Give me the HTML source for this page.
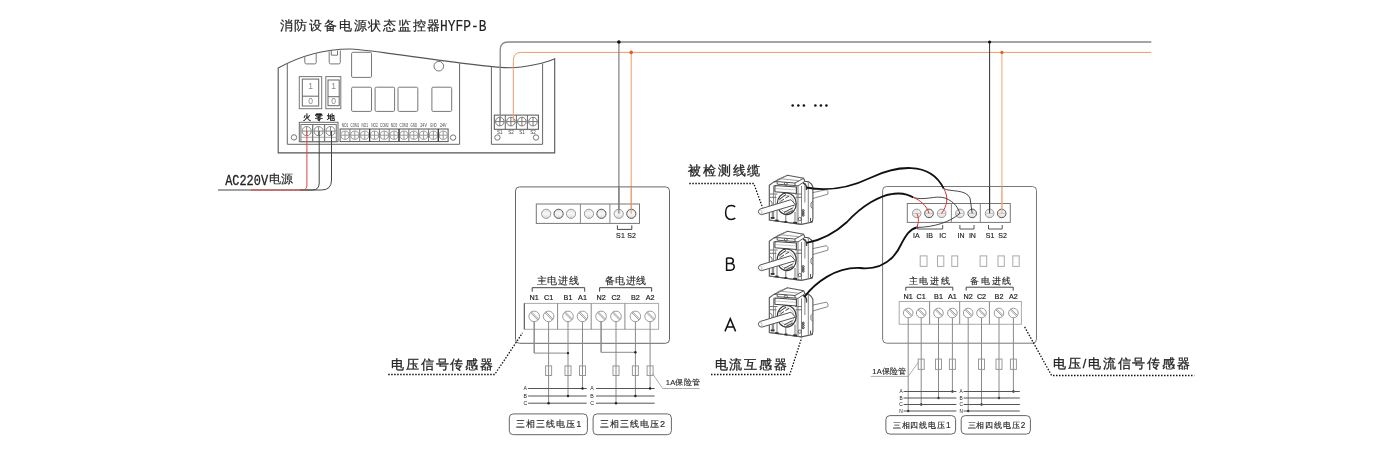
<!DOCTYPE html><html><head><meta charset="utf-8"><style>html,body{margin:0;padding:0;background:#fff;width:1400px;height:454px;overflow:hidden}svg{display:block;will-change:transform}</style></head><body>
<svg width="1400" height="454" viewBox="0 0 1400 454">
<defs><radialGradient id="gr" cx="50%" cy="50%" r="50%"><stop offset="0" stop-color="#f4f4f4"/><stop offset="1" stop-color="#cfcfcf"/></radialGradient><linearGradient id="gl" x1="0" y1="0" x2="0" y2="1"><stop offset="0" stop-color="#e0e0e0"/><stop offset="0.5" stop-color="#f8f8f8"/><stop offset="1" stop-color="#d8d8d8"/></linearGradient></defs>
<text x="279.55" y="29.86" font-size="13.20" font-family='"Liberation Sans", sans-serif' fill="#222" stroke="#222" stroke-width="0.2" textLength="160.93" lengthAdjust="spacing">消防设备电源状态监控器</text>
<text transform="translate(440,31.3) scale(1,1.22)" font-size="12.9" font-family='"Liberation Mono", monospace' fill="#222" stroke="#222" stroke-width="0.15">HYFP-B</text>
<path d="M278.2,68 C300,56 325,49 350,49 C370,49 477,67.7 510,67.7 C525,67.7 545,63 554.7,58.8 L554.7,152.9 L278.2,152.9 Z" fill="#fff" stroke="#555" stroke-width="1.1" />
<path d="M287.3,63.5 L287.3,144.3 L459.6,144.3 L459.6,63.4" fill="none" stroke="#666" stroke-width="1" />
<path d="M491.4,66.7 L491.4,144.3 L542.6,144.3 L542.6,63.5" fill="none" stroke="#666" stroke-width="1" />
<path d="M304.8,56 L304.8,62.4 Q304.8,63.9 306.3,63.9 L314.7,63.9 Q316.2,63.9 316.2,62.4 L316.2,53.5" fill="none" stroke="#777" stroke-width="1" />
<path d="M329.2,51.5 L329.2,62.4 Q329.2,63.9 330.7,63.9 L338.8,63.9 Q340.3,63.9 340.3,62.4 L340.3,50.5" fill="none" stroke="#777" stroke-width="1" />
<path d="M331.3,51 L331.3,55.2 L337.5,55.2 L337.5,50.5" fill="none" stroke="#777" stroke-width="1" />
<rect x="351.6" y="52.3" width="19.9" height="25.1" rx="1.2" fill="none" stroke="#777" stroke-width="1" />
<rect x="351.6" y="87.2" width="19.9" height="24.2" rx="1.2" fill="none" stroke="#777" stroke-width="1" />
<rect x="375.1" y="87.2" width="19.5" height="24.2" rx="1.2" fill="none" stroke="#777" stroke-width="1" />
<rect x="398.0" y="87.2" width="19.8" height="24.2" rx="1.2" fill="none" stroke="#777" stroke-width="1" />
<rect x="431.9" y="87.2" width="19.8" height="24.2" rx="1.2" fill="none" stroke="#777" stroke-width="1" />
<circle cx="438.8" cy="66.2" r="4.8" fill="none" stroke="#777" stroke-width="1" />
<rect x="299.3" y="76.6" width="22.4" height="32.1" rx="0" fill="none" stroke="#777" stroke-width="1" />
<rect x="302.3" y="79.1" width="16.4" height="26.9" rx="0" fill="none" stroke="#666" stroke-width="1" />
<line x1="302.3" y1="96.2" x2="318.7" y2="96.2" stroke="#666" stroke-width="1" />
<text x="310.5" y="89.3" font-size="8.5" fill="#888" text-anchor="middle" font-family='"Liberation Sans", sans-serif' font-weight="normal" >1</text>
<text x="310.5" y="104.0" font-size="8.5" fill="#888" text-anchor="middle" font-family='"Liberation Sans", sans-serif' font-weight="normal" >0</text>
<rect x="325.8" y="76.6" width="15.0" height="32.1" rx="0" fill="none" stroke="#777" stroke-width="1" />
<rect x="328.0" y="80.0" width="11.2" height="25.7" rx="0" fill="none" stroke="#666" stroke-width="1" />
<line x1="328.0" y1="96.7" x2="339.2" y2="96.7" stroke="#666" stroke-width="1" />
<text x="333.6" y="89.3" font-size="8.5" fill="#888" text-anchor="middle" font-family='"Liberation Sans", sans-serif' font-weight="normal" >1</text>
<text x="333.6" y="104.0" font-size="8.5" fill="#888" text-anchor="middle" font-family='"Liberation Sans", sans-serif' font-weight="normal" >0</text>
<text x="306.7" y="119.9" font-size="7.8" fill="#111" text-anchor="middle" font-family='"Liberation Sans", sans-serif' font-weight="normal" stroke="#111" stroke-width="0.3">火</text>
<text x="318.6" y="119.9" font-size="7.8" fill="#111" text-anchor="middle" font-family='"Liberation Sans", sans-serif' font-weight="normal" stroke="#111" stroke-width="0.3">零</text>
<text x="330.5" y="119.9" font-size="7.8" fill="#111" text-anchor="middle" font-family='"Liberation Sans", sans-serif' font-weight="normal" stroke="#111" stroke-width="0.3">地</text>
<rect x="299.3" y="122.3" width="38.7" height="19.4" rx="0" fill="none" stroke="#666" stroke-width="1" />
<rect x="300.9" y="124.5" width="11.6" height="17.2" rx="0" fill="none" stroke="#777" stroke-width="1" />
<circle cx="306.7" cy="131.1" r="4.6" fill="none" stroke="#888" stroke-width="1" />
<line x1="302.1" y1="131.1" x2="311.3" y2="131.1" stroke="#888" stroke-width="1" />
<line x1="306.7" y1="126.5" x2="306.7" y2="135.7" stroke="#888" stroke-width="1" />
<line x1="300.9" y1="137.3" x2="312.5" y2="137.3" stroke="#aaa" stroke-width="1" />
<rect x="312.8" y="124.5" width="11.6" height="17.2" rx="0" fill="none" stroke="#777" stroke-width="1" />
<circle cx="318.6" cy="131.1" r="4.6" fill="none" stroke="#888" stroke-width="1" />
<line x1="314.0" y1="131.1" x2="323.2" y2="131.1" stroke="#888" stroke-width="1" />
<line x1="318.6" y1="126.5" x2="318.6" y2="135.7" stroke="#888" stroke-width="1" />
<line x1="312.8" y1="137.3" x2="324.4" y2="137.3" stroke="#aaa" stroke-width="1" />
<rect x="324.7" y="124.5" width="11.6" height="17.2" rx="0" fill="none" stroke="#777" stroke-width="1" />
<circle cx="330.5" cy="131.1" r="4.6" fill="none" stroke="#888" stroke-width="1" />
<line x1="325.9" y1="131.1" x2="335.1" y2="131.1" stroke="#888" stroke-width="1" />
<line x1="330.5" y1="126.5" x2="330.5" y2="135.7" stroke="#888" stroke-width="1" />
<line x1="324.7" y1="137.3" x2="336.3" y2="137.3" stroke="#aaa" stroke-width="1" />
<circle cx="294.0" cy="137.4" r="2.7" fill="none" stroke="#777" stroke-width="1" />
<circle cx="453.1" cy="137.6" r="2.7" fill="none" stroke="#777" stroke-width="1" />
<rect x="340.1" y="129.0" width="108.0" height="12.6" rx="0" fill="none" stroke="#555" stroke-width="1" />
<circle cx="345.0" cy="135.2" r="4.1" fill="none" stroke="#999" stroke-width="1" />
<line x1="340.9" y1="135.2" x2="349.1" y2="135.2" stroke="#999" stroke-width="1" />
<line x1="345.0" y1="131.1" x2="345.0" y2="139.3" stroke="#999" stroke-width="1" />
<text x="341.7" y="127.1" font-size="5" fill="#444" text-anchor="start" font-family='"Liberation Sans", sans-serif' font-weight="normal" textLength="6.6" lengthAdjust="spacingAndGlyphs" >NO1</text>
<line x1="349.9" y1="129.0" x2="349.9" y2="141.6" stroke="#777" stroke-width="1" />
<circle cx="354.8" cy="135.2" r="4.1" fill="none" stroke="#999" stroke-width="1" />
<line x1="350.7" y1="135.2" x2="358.9" y2="135.2" stroke="#999" stroke-width="1" />
<line x1="354.8" y1="131.1" x2="354.8" y2="139.3" stroke="#999" stroke-width="1" />
<text x="350.5" y="127.1" font-size="5" fill="#444" text-anchor="start" font-family='"Liberation Sans", sans-serif' font-weight="normal" textLength="8.6" lengthAdjust="spacingAndGlyphs" >COM1</text>
<line x1="359.7" y1="129.0" x2="359.7" y2="141.6" stroke="#777" stroke-width="1" />
<circle cx="364.7" cy="135.2" r="4.1" fill="none" stroke="#999" stroke-width="1" />
<line x1="360.6" y1="135.2" x2="368.8" y2="135.2" stroke="#999" stroke-width="1" />
<line x1="364.7" y1="131.1" x2="364.7" y2="139.3" stroke="#999" stroke-width="1" />
<text x="361.4" y="127.1" font-size="5" fill="#444" text-anchor="start" font-family='"Liberation Sans", sans-serif' font-weight="normal" textLength="6.6" lengthAdjust="spacingAndGlyphs" >NO1</text>
<line x1="369.6" y1="129.0" x2="369.6" y2="141.6" stroke="#777" stroke-width="1" />
<circle cx="374.5" cy="135.2" r="4.1" fill="none" stroke="#999" stroke-width="1" />
<line x1="370.4" y1="135.2" x2="378.6" y2="135.2" stroke="#999" stroke-width="1" />
<line x1="374.5" y1="131.1" x2="374.5" y2="139.3" stroke="#999" stroke-width="1" />
<text x="371.2" y="127.1" font-size="5" fill="#444" text-anchor="start" font-family='"Liberation Sans", sans-serif' font-weight="normal" textLength="6.6" lengthAdjust="spacingAndGlyphs" >NO2</text>
<line x1="379.4" y1="129.0" x2="379.4" y2="141.6" stroke="#777" stroke-width="1" />
<circle cx="384.3" cy="135.2" r="4.1" fill="none" stroke="#999" stroke-width="1" />
<line x1="380.2" y1="135.2" x2="388.4" y2="135.2" stroke="#999" stroke-width="1" />
<line x1="384.3" y1="131.1" x2="384.3" y2="139.3" stroke="#999" stroke-width="1" />
<text x="380.0" y="127.1" font-size="5" fill="#444" text-anchor="start" font-family='"Liberation Sans", sans-serif' font-weight="normal" textLength="8.6" lengthAdjust="spacingAndGlyphs" >COM2</text>
<line x1="389.2" y1="129.0" x2="389.2" y2="141.6" stroke="#777" stroke-width="1" />
<circle cx="394.1" cy="135.2" r="4.1" fill="none" stroke="#999" stroke-width="1" />
<line x1="390.0" y1="135.2" x2="398.2" y2="135.2" stroke="#999" stroke-width="1" />
<line x1="394.1" y1="131.1" x2="394.1" y2="139.3" stroke="#999" stroke-width="1" />
<text x="390.8" y="127.1" font-size="5" fill="#444" text-anchor="start" font-family='"Liberation Sans", sans-serif' font-weight="normal" textLength="6.6" lengthAdjust="spacingAndGlyphs" >NO3</text>
<line x1="399.0" y1="129.0" x2="399.0" y2="141.6" stroke="#777" stroke-width="1" />
<circle cx="403.9" cy="135.2" r="4.1" fill="none" stroke="#999" stroke-width="1" />
<line x1="399.8" y1="135.2" x2="408.0" y2="135.2" stroke="#999" stroke-width="1" />
<line x1="403.9" y1="131.1" x2="403.9" y2="139.3" stroke="#999" stroke-width="1" />
<text x="399.6" y="127.1" font-size="5" fill="#444" text-anchor="start" font-family='"Liberation Sans", sans-serif' font-weight="normal" textLength="8.6" lengthAdjust="spacingAndGlyphs" >COM3</text>
<line x1="408.8" y1="129.0" x2="408.8" y2="141.6" stroke="#777" stroke-width="1" />
<circle cx="413.8" cy="135.2" r="4.1" fill="none" stroke="#999" stroke-width="1" />
<line x1="409.7" y1="135.2" x2="417.9" y2="135.2" stroke="#999" stroke-width="1" />
<line x1="413.8" y1="131.1" x2="413.8" y2="139.3" stroke="#999" stroke-width="1" />
<text x="410.5" y="127.1" font-size="5" fill="#444" text-anchor="start" font-family='"Liberation Sans", sans-serif' font-weight="normal" textLength="6.6" lengthAdjust="spacingAndGlyphs" >GND</text>
<line x1="418.7" y1="129.0" x2="418.7" y2="141.6" stroke="#777" stroke-width="1" />
<circle cx="423.6" cy="135.2" r="4.1" fill="none" stroke="#999" stroke-width="1" />
<line x1="419.5" y1="135.2" x2="427.7" y2="135.2" stroke="#999" stroke-width="1" />
<line x1="423.6" y1="131.1" x2="423.6" y2="139.3" stroke="#999" stroke-width="1" />
<text x="420.3" y="127.1" font-size="5" fill="#444" text-anchor="start" font-family='"Liberation Sans", sans-serif' font-weight="normal" textLength="6.6" lengthAdjust="spacingAndGlyphs" >24V</text>
<line x1="428.5" y1="129.0" x2="428.5" y2="141.6" stroke="#777" stroke-width="1" />
<circle cx="433.4" cy="135.2" r="4.1" fill="none" stroke="#999" stroke-width="1" />
<line x1="429.3" y1="135.2" x2="437.5" y2="135.2" stroke="#999" stroke-width="1" />
<line x1="433.4" y1="131.1" x2="433.4" y2="139.3" stroke="#999" stroke-width="1" />
<text x="430.1" y="127.1" font-size="5" fill="#444" text-anchor="start" font-family='"Liberation Sans", sans-serif' font-weight="normal" textLength="6.6" lengthAdjust="spacingAndGlyphs" >GND</text>
<line x1="438.3" y1="129.0" x2="438.3" y2="141.6" stroke="#777" stroke-width="1" />
<circle cx="443.2" cy="135.2" r="4.1" fill="none" stroke="#999" stroke-width="1" />
<line x1="439.1" y1="135.2" x2="447.3" y2="135.2" stroke="#999" stroke-width="1" />
<line x1="443.2" y1="131.1" x2="443.2" y2="139.3" stroke="#999" stroke-width="1" />
<text x="439.9" y="127.1" font-size="5" fill="#444" text-anchor="start" font-family='"Liberation Sans", sans-serif' font-weight="normal" textLength="6.6" lengthAdjust="spacingAndGlyphs" >24V</text>
<line x1="369.6" y1="129.0" x2="369.6" y2="141.6" stroke="#333" stroke-width="1.2" />
<line x1="399.0" y1="129.0" x2="399.0" y2="141.6" stroke="#333" stroke-width="1.2" />
<line x1="438.3" y1="129.0" x2="438.3" y2="141.6" stroke="#333" stroke-width="1.2" />
<rect x="494.3" y="115.1" width="44.1" height="14.2" rx="0" fill="none" stroke="#555" stroke-width="1" />
<circle cx="499.8" cy="121.6" r="4.3" fill="none" stroke="#777" stroke-width="1" />
<line x1="495.5" y1="121.6" x2="504.1" y2="121.6" stroke="#777" stroke-width="1" />
<line x1="499.8" y1="117.3" x2="499.8" y2="125.9" stroke="#777" stroke-width="1" />
<text x="499.8" y="134.2" font-size="4.5" fill="#444" text-anchor="middle" font-family='"Liberation Sans", sans-serif' font-weight="normal" >S1</text>
<line x1="505.3" y1="115.1" x2="505.3" y2="129.3" stroke="#666" stroke-width="1" />
<circle cx="510.9" cy="121.6" r="4.3" fill="none" stroke="#777" stroke-width="1" />
<line x1="506.6" y1="121.6" x2="515.2" y2="121.6" stroke="#777" stroke-width="1" />
<line x1="510.9" y1="117.3" x2="510.9" y2="125.9" stroke="#777" stroke-width="1" />
<text x="510.9" y="134.2" font-size="4.5" fill="#444" text-anchor="middle" font-family='"Liberation Sans", sans-serif' font-weight="normal" >S2</text>
<line x1="516.4" y1="115.1" x2="516.4" y2="129.3" stroke="#666" stroke-width="1" />
<circle cx="521.9" cy="121.6" r="4.3" fill="none" stroke="#777" stroke-width="1" />
<line x1="517.6" y1="121.6" x2="526.2" y2="121.6" stroke="#777" stroke-width="1" />
<line x1="521.9" y1="117.3" x2="521.9" y2="125.9" stroke="#777" stroke-width="1" />
<text x="521.9" y="134.2" font-size="4.5" fill="#444" text-anchor="middle" font-family='"Liberation Sans", sans-serif' font-weight="normal" >S1</text>
<line x1="527.4" y1="115.1" x2="527.4" y2="129.3" stroke="#666" stroke-width="1" />
<circle cx="533.0" cy="121.6" r="4.3" fill="none" stroke="#777" stroke-width="1" />
<line x1="528.7" y1="121.6" x2="537.3" y2="121.6" stroke="#777" stroke-width="1" />
<line x1="533.0" y1="117.3" x2="533.0" y2="125.9" stroke="#777" stroke-width="1" />
<text x="533.0" y="134.2" font-size="4.5" fill="#444" text-anchor="middle" font-family='"Liberation Sans", sans-serif' font-weight="normal" >S2</text>
<circle cx="497.4" cy="137.5" r="2.7" fill="none" stroke="#777" stroke-width="1" />
<circle cx="536.0" cy="137.5" r="2.7" fill="none" stroke="#777" stroke-width="1" />
<path d="M331.5,131 L331.5,180 Q331.5,190 321.5,190 L218,190" fill="none" stroke="#444" stroke-width="1" />
<path d="M319.2,131 L319.2,183 Q319.2,190 312.2,190 L300,190" fill="none" stroke="#444" stroke-width="1" />
<path d="M306.9,131 L306.9,185 Q306.9,190 301.9,190 L251,190" fill="none" stroke="#d44" stroke-width="1" />
<text transform="translate(225.2,184.5) scale(1,1.3)" font-size="11.9" font-family='"Liberation Mono", monospace' fill="#222" stroke="#222" stroke-width="0.25">AC220V</text>
<text x="268.56" y="182.72" font-size="12.00" font-family='"Liberation Sans", sans-serif' fill="#222" stroke="#222" stroke-width="0.15" textLength="24.02" lengthAdjust="spacing">电源</text>
<path d="M500.2,121.6 L500.2,50 Q500.2,42 508.2,42 L1151.3,42" fill="none" stroke="#888" stroke-width="1.3" />
<path d="M513.3,121.6 L513.3,60.4 Q513.3,52.4 521.3,52.4 L1151.3,52.4" fill="none" stroke="#ee9a6c" stroke-width="1" />
<line x1="618.9" y1="42.0" x2="618.9" y2="213.8" stroke="#808080" stroke-width="1.2" />
<line x1="631.2" y1="52.4" x2="631.2" y2="213.8" stroke="#ee9a6c" stroke-width="1" />
<circle cx="618.9" cy="42.0" r="1.8" fill="#111"/>
<circle cx="631.2" cy="52.4" r="1.8" fill="#e06020"/>
<line x1="989.6" y1="42.0" x2="989.6" y2="213.4" stroke="#333" stroke-width="1" />
<line x1="1001.9" y1="52.4" x2="1001.9" y2="213.4" stroke="#f2b48e" stroke-width="1.2" />
<circle cx="989.6" cy="42.0" r="1.6" fill="#111"/>
<circle cx="1001.9" cy="52.4" r="1.6" fill="#e06020"/>
<circle cx="792.7" cy="105.5" r="1.3" fill="#111"/>
<circle cx="798.3" cy="105.5" r="1.3" fill="#111"/>
<circle cx="803.9" cy="105.5" r="1.3" fill="#111"/>
<circle cx="815.4" cy="105.5" r="1.3" fill="#111"/>
<circle cx="820.9" cy="105.5" r="1.3" fill="#111"/>
<circle cx="826.4" cy="105.5" r="1.3" fill="#111"/>
<rect x="515.5" y="186.9" width="154.0" height="156.4" rx="4" fill="none" stroke="#666" stroke-width="1" />
<rect x="536.3" y="204.0" width="103.2" height="19.4" rx="0" fill="none" stroke="#777" stroke-width="1" />
<line x1="580.4" y1="204.0" x2="580.4" y2="223.4" stroke="#888" stroke-width="1" />
<line x1="609.9" y1="204.0" x2="609.9" y2="223.4" stroke="#888" stroke-width="1" />
<circle cx="546.2" cy="213.8" r="4.6" fill="url(#gl)" stroke="#999" stroke-width="1" />
<circle cx="558.6" cy="213.8" r="4.6" fill="url(#gl)" stroke="#555" stroke-width="1" />
<circle cx="571.0" cy="213.8" r="4.6" fill="url(#gl)" stroke="#999" stroke-width="1" />
<circle cx="589.0" cy="213.8" r="4.6" fill="url(#gl)" stroke="#999" stroke-width="1" />
<circle cx="601.4" cy="213.8" r="4.6" fill="url(#gl)" stroke="#555" stroke-width="1" />
<circle cx="618.7" cy="213.8" r="4.6" fill="url(#gl)" stroke="#999" stroke-width="1" />
<circle cx="631.3" cy="213.8" r="4.6" fill="url(#gl)" stroke="#555" stroke-width="1" />
<path d="M617.4,225.4 L617.4,229.4 L631.8,229.4 L631.8,225.4" fill="none" stroke="#444" stroke-width="1" />
<text x="616.0" y="237.5" font-size="7" fill="#222" text-anchor="start" font-family='"Liberation Sans", sans-serif' font-weight="normal" textLength="20" lengthAdjust="spacing" stroke="#222" stroke-width="0.15">S1 S2</text>
<text x="536.86" y="284.39" font-size="9.60" font-family='"Liberation Sans", sans-serif' fill="#222" stroke="#222" stroke-width="0.12" textLength="41.64" lengthAdjust="spacing">主电进线</text>
<text x="604.75" y="284.10" font-size="9.60" font-family='"Liberation Sans", sans-serif' fill="#222" stroke="#222" stroke-width="0.12" textLength="41.37" lengthAdjust="spacing">备电进线</text>
<path d="M532.2,291.7 L532.2,287.7 L584.7,287.7 L584.7,291.7" fill="none" stroke="#444" stroke-width="1" />
<path d="M599.6,291.7 L599.6,287.7 L651.7,287.7 L651.7,291.7" fill="none" stroke="#444" stroke-width="1" />
<text x="534.2" y="300.3" font-size="7.2" fill="#222" text-anchor="middle" font-family='"Liberation Sans", sans-serif' font-weight="normal" stroke="#222" stroke-width="0.2">N1</text>
<text x="548.6" y="300.3" font-size="7.2" fill="#222" text-anchor="middle" font-family='"Liberation Sans", sans-serif' font-weight="normal" stroke="#222" stroke-width="0.2">C1</text>
<text x="568.0" y="300.3" font-size="7.2" fill="#222" text-anchor="middle" font-family='"Liberation Sans", sans-serif' font-weight="normal" stroke="#222" stroke-width="0.2">B1</text>
<text x="582.5" y="300.3" font-size="7.2" fill="#222" text-anchor="middle" font-family='"Liberation Sans", sans-serif' font-weight="normal" stroke="#222" stroke-width="0.2">A1</text>
<text x="601.1" y="300.3" font-size="7.2" fill="#222" text-anchor="middle" font-family='"Liberation Sans", sans-serif' font-weight="normal" stroke="#222" stroke-width="0.2">N2</text>
<text x="616.0" y="300.3" font-size="7.2" fill="#222" text-anchor="middle" font-family='"Liberation Sans", sans-serif' font-weight="normal" stroke="#222" stroke-width="0.2">C2</text>
<text x="635.4" y="300.3" font-size="7.2" fill="#222" text-anchor="middle" font-family='"Liberation Sans", sans-serif' font-weight="normal" stroke="#222" stroke-width="0.2">B2</text>
<text x="650.1" y="300.3" font-size="7.2" fill="#222" text-anchor="middle" font-family='"Liberation Sans", sans-serif' font-weight="normal" stroke="#222" stroke-width="0.2">A2</text>
<rect x="524.3" y="303.4" width="134.3" height="25.9" rx="0" fill="none" stroke="#aaa" stroke-width="1" />
<line x1="557.6" y1="303.4" x2="557.6" y2="329.3" stroke="#888" stroke-width="1" />
<line x1="591.2" y1="303.4" x2="591.2" y2="329.3" stroke="#888" stroke-width="1" />
<line x1="624.9" y1="303.4" x2="624.9" y2="329.3" stroke="#888" stroke-width="1" />
<line x1="524.3" y1="303.4" x2="524.3" y2="329.3" stroke="#555" stroke-width="1" />
<circle cx="534.2" cy="316.4" r="5.3" fill="none" stroke="#999" stroke-width="1" />
<line x1="530.6" y1="312.8" x2="537.8" y2="320.0" stroke="#888" stroke-width="0.8" />
<line x1="531.3" y1="311.7" x2="538.6" y2="319.1" stroke="#888" stroke-width="0.8" />
<circle cx="548.6" cy="316.4" r="5.3" fill="none" stroke="#999" stroke-width="1" />
<line x1="545.0" y1="312.8" x2="552.2" y2="320.0" stroke="#888" stroke-width="0.8" />
<line x1="545.7" y1="311.7" x2="553.0" y2="319.1" stroke="#888" stroke-width="0.8" />
<circle cx="568.0" cy="316.4" r="5.3" fill="none" stroke="#999" stroke-width="1" />
<line x1="564.4" y1="312.8" x2="571.6" y2="320.0" stroke="#888" stroke-width="0.8" />
<line x1="565.1" y1="311.7" x2="572.4" y2="319.1" stroke="#888" stroke-width="0.8" />
<circle cx="582.5" cy="316.4" r="5.3" fill="none" stroke="#999" stroke-width="1" />
<line x1="578.9" y1="312.8" x2="586.1" y2="320.0" stroke="#888" stroke-width="0.8" />
<line x1="579.6" y1="311.7" x2="586.9" y2="319.1" stroke="#888" stroke-width="0.8" />
<circle cx="601.1" cy="316.4" r="5.3" fill="none" stroke="#999" stroke-width="1" />
<line x1="597.5" y1="312.8" x2="604.7" y2="320.0" stroke="#888" stroke-width="0.8" />
<line x1="598.2" y1="311.7" x2="605.5" y2="319.1" stroke="#888" stroke-width="0.8" />
<circle cx="616.0" cy="316.4" r="5.3" fill="none" stroke="#999" stroke-width="1" />
<line x1="612.4" y1="312.8" x2="619.6" y2="320.0" stroke="#888" stroke-width="0.8" />
<line x1="613.1" y1="311.7" x2="620.4" y2="319.1" stroke="#888" stroke-width="0.8" />
<circle cx="635.4" cy="316.4" r="5.3" fill="none" stroke="#999" stroke-width="1" />
<line x1="631.8" y1="312.8" x2="639.0" y2="320.0" stroke="#888" stroke-width="0.8" />
<line x1="632.5" y1="311.7" x2="639.8" y2="319.1" stroke="#888" stroke-width="0.8" />
<circle cx="650.1" cy="316.4" r="5.3" fill="none" stroke="#999" stroke-width="1" />
<line x1="646.5" y1="312.8" x2="653.7" y2="320.0" stroke="#888" stroke-width="0.8" />
<line x1="647.2" y1="311.7" x2="654.5" y2="319.1" stroke="#888" stroke-width="0.8" />
<line x1="534.2" y1="321.7" x2="534.2" y2="353.1" stroke="#8a8a8a" stroke-width="1" />
<line x1="548.6" y1="321.7" x2="548.6" y2="403.2" stroke="#8a8a8a" stroke-width="1" />
<line x1="568.0" y1="321.7" x2="568.0" y2="396.0" stroke="#8a8a8a" stroke-width="1" />
<line x1="582.5" y1="321.7" x2="582.5" y2="388.5" stroke="#8a8a8a" stroke-width="1" />
<line x1="601.1" y1="321.7" x2="601.1" y2="352.3" stroke="#8a8a8a" stroke-width="1" />
<line x1="616.0" y1="321.7" x2="616.0" y2="403.2" stroke="#8a8a8a" stroke-width="1" />
<line x1="635.4" y1="321.7" x2="635.4" y2="396.0" stroke="#8a8a8a" stroke-width="1" />
<line x1="650.1" y1="321.7" x2="650.1" y2="388.5" stroke="#8a8a8a" stroke-width="1" />
<path d="M534.2,321.7 L534.2,353.1 L568,353.1" fill="none" stroke="#8a8a8a" stroke-width="1" />
<path d="M601.1,321.7 L601.1,352.3 L635.4,352.3" fill="none" stroke="#8a8a8a" stroke-width="1" />
<circle cx="568.0" cy="353.1" r="1.2" fill="#222"/>
<circle cx="635.4" cy="352.3" r="1.2" fill="#222"/>
<rect x="545.6" y="365.9" width="6.0" height="9.6" rx="0" fill="#fff" stroke="#999" stroke-width="1" />
<line x1="548.6" y1="365.9" x2="548.6" y2="375.5" stroke="#888" stroke-width="1" />
<rect x="565.0" y="365.9" width="6.0" height="9.6" rx="0" fill="#fff" stroke="#999" stroke-width="1" />
<line x1="568.0" y1="365.9" x2="568.0" y2="375.5" stroke="#888" stroke-width="1" />
<rect x="579.5" y="365.9" width="6.0" height="9.6" rx="0" fill="#fff" stroke="#999" stroke-width="1" />
<line x1="582.5" y1="365.9" x2="582.5" y2="375.5" stroke="#888" stroke-width="1" />
<rect x="613.0" y="365.9" width="6.0" height="9.6" rx="0" fill="#fff" stroke="#999" stroke-width="1" />
<line x1="616.0" y1="365.9" x2="616.0" y2="375.5" stroke="#888" stroke-width="1" />
<rect x="632.4" y="365.9" width="6.0" height="9.6" rx="0" fill="#fff" stroke="#999" stroke-width="1" />
<line x1="635.4" y1="365.9" x2="635.4" y2="375.5" stroke="#888" stroke-width="1" />
<rect x="647.1" y="365.9" width="6.0" height="9.6" rx="0" fill="#fff" stroke="#999" stroke-width="1" />
<line x1="650.1" y1="365.9" x2="650.1" y2="375.5" stroke="#888" stroke-width="1" />
<line x1="528.1" y1="388.5" x2="586.7" y2="388.5" stroke="#555" stroke-width="1" />
<line x1="596.0" y1="388.5" x2="654.7" y2="388.5" stroke="#555" stroke-width="1" />
<text x="525.3" y="390.4" font-size="5.2" fill="#222" text-anchor="middle" font-family='"Liberation Sans", sans-serif' font-weight="normal" >A</text>
<text x="592.1" y="390.4" font-size="5.2" fill="#222" text-anchor="middle" font-family='"Liberation Sans", sans-serif' font-weight="normal" >A</text>
<line x1="528.1" y1="396.0" x2="586.7" y2="396.0" stroke="#555" stroke-width="1" />
<line x1="596.0" y1="396.0" x2="654.7" y2="396.0" stroke="#555" stroke-width="1" />
<text x="525.3" y="397.9" font-size="5.2" fill="#222" text-anchor="middle" font-family='"Liberation Sans", sans-serif' font-weight="normal" >B</text>
<text x="592.1" y="397.9" font-size="5.2" fill="#222" text-anchor="middle" font-family='"Liberation Sans", sans-serif' font-weight="normal" >B</text>
<line x1="528.1" y1="403.2" x2="586.7" y2="403.2" stroke="#555" stroke-width="1" />
<line x1="596.0" y1="403.2" x2="654.7" y2="403.2" stroke="#555" stroke-width="1" />
<text x="525.3" y="405.1" font-size="5.2" fill="#222" text-anchor="middle" font-family='"Liberation Sans", sans-serif' font-weight="normal" >C</text>
<text x="592.1" y="405.1" font-size="5.2" fill="#222" text-anchor="middle" font-family='"Liberation Sans", sans-serif' font-weight="normal" >C</text>
<circle cx="548.6" cy="403.2" r="1.2" fill="#222"/>
<circle cx="568.0" cy="396.0" r="1.2" fill="#222"/>
<circle cx="582.5" cy="388.5" r="1.2" fill="#222"/>
<circle cx="616.0" cy="403.2" r="1.2" fill="#222"/>
<circle cx="635.4" cy="396.0" r="1.2" fill="#222"/>
<circle cx="650.1" cy="388.5" r="1.2" fill="#222"/>
<path d="M652.5,373.5 L662.6,388.5 L699.6,388.5" fill="none" stroke="#999" stroke-width="0.8" />
<text x="665.74" y="385.10" font-size="7.60" font-family='"Liberation Sans", sans-serif' fill="#222" stroke="#222" stroke-width="0.1" textLength="34.11" lengthAdjust="spacing">1A保险管</text>
<rect x="509.3" y="413.9" width="78.1" height="20.8" rx="4" fill="none" stroke="#666" stroke-width="1" />
<rect x="593.1" y="413.9" width="78.3" height="20.8" rx="4" fill="none" stroke="#666" stroke-width="1" />
<text x="516.15" y="427.48" font-size="9.20" font-family='"Liberation Sans", sans-serif' fill="#222" stroke="#222" stroke-width="0.12" textLength="65.25" lengthAdjust="spacing">三相三线电压1</text>
<text x="600.27" y="427.49" font-size="9.20" font-family='"Liberation Sans", sans-serif' fill="#222" stroke="#222" stroke-width="0.12" textLength="64.95" lengthAdjust="spacing">三相三线电压2</text>
<text x="391.21" y="368.89" font-size="12.80" font-family='"Liberation Sans", sans-serif' fill="#222" stroke="#222" stroke-width="0.3" textLength="101.62" lengthAdjust="spacing">电压信号传感器</text>
<path d="M388.2,374.5 L494.7,374.5 L522.5,332.8" fill="none" stroke="#111" stroke-width="1.3" stroke-dasharray="1.5 1.5"/>
<path d="M811,193.0 L826.5,189.6 Q829,191.5 827.8,194.2 L811,199.0 Z" fill="#fff" stroke="#888" stroke-width="1" />
<path d="M769.3,185.2 L773.9,181.9 L787.4,175.3 L803.6,178.3 L804.9,181.3 L808.9,181.9 Q812,183.5 812.9,187.0 L812.9,218.5 L812.3,222.0 L801.5,224.4 L769.3,220.1 Z" fill="#fff" stroke="#555" stroke-width="1.1" />
<path d="M773.9,181.9 L777.2,181.6 L795,183.0 L803.6,178.3 M777.2,181.6 L777.2,184.2 L795,185.5 L795,183.0 M795,185.5 L798,185.9 L804.9,181.3" fill="none" stroke="#555" stroke-width="1" />
<path d="M787.4,175.3 L777.2,179.5 L777.2,181.6 M779,178.6 L800,180.8" fill="none" stroke="#888" stroke-width="0.8" />
<path d="M774.9,185.5 L796.4,186.9 L796.4,193.5 L774.9,191.8 Z" fill="#fff" stroke="#444" stroke-width="1.1" />
<path d="M775.5,188.5 L795.8,189.9" fill="none" stroke="#bbb" stroke-width="0.8" />
<circle cx="785.8" cy="183.9" r="1.5" fill="none" stroke="#555" stroke-width="1" />
<path d="M773.6,185.5 L773.6,217.5 M798,185.9 L798,224.0 M801.5,185.9 L801.5,224.2 M804.9,183.0 L804.9,202.5 M808.3,182.5 L808.3,223.0 " fill="none" stroke="#777" stroke-width="0.9" />
<path d="M797,194.0 L797,222.0 M775.5,194.5 L775.5,209.0" fill="none" stroke="#999" stroke-width="0.8" />
<path d="M769.3,200.0 L772,202.0 L772,207.0 L769.3,209.0 M812.9,201.0 L811,203.0 L811,207.0 L812.9,209.0" fill="none" stroke="#666" stroke-width="0.9" />
<path d="M769.3,194.0 L777.5,194.0 M769.3,197.3 L776.5,197.3 M795,194.0 L801.5,194.0 M795.5,197.3 L801.5,197.3" fill="none" stroke="#666" stroke-width="0.9" />
<ellipse cx="786.7" cy="203.8" rx="9.5" ry="10.8" fill="#fff" stroke="#333" stroke-width="1.2"/>
<ellipse cx="786.7" cy="203.8" rx="7.2" ry="8.4" fill="none" stroke="#aaa" stroke-width="0.8"/>
<path d="M779,199.5 L786,194.5 M780.5,201.5 L784,199.0 M785.5,198.0 L789,196.0 M784,212.5 L792.5,208.0 M786,214.0 L793,210.5" fill="none" stroke="#444" stroke-width="1.0" />
<path d="M772.3,209.5 L772.3,217.5 M777,209.5 L777,220.5 M785.8,214.5 L785.8,222.0 M795,212.0 L795,222.5 M769.3,220.1 L801.5,224.4" fill="none" stroke="#666" stroke-width="0.9" />
<path d="M770.7,217.8 L774.5,218.0 M775.2,220.4 L778.6,220.6 M784.4,221.8 L787.3,222.0 M793.2,222.7 L797,223.0" fill="none" stroke="#333" stroke-width="1.8" />
<path d="M760.1,209.0 L790.9,199.7 L795.5,204.7 L761.6,214.7 Q758.4,214.2 758.4,211.8 Q758.6,209.3 760.1,209.0 Z" fill="#fff" stroke="#555" stroke-width="1" />
<path d="M760.1,209.0 Q763.2,211.8 761.6,214.7" fill="none" stroke="#aaa" stroke-width="0.8" />
<circle cx="803.2" cy="210.6" r="1.0" fill="none" stroke="#333" stroke-width="1.0" />
<circle cx="803.2" cy="212.9" r="1.0" fill="none" stroke="#333" stroke-width="1.0" />
<circle cx="803.2" cy="215.2" r="1.0" fill="none" stroke="#333" stroke-width="1.0" />
<circle cx="799.7" cy="219.1" r="1.6" fill="none" stroke="#555" stroke-width="0.9" />
<path d="M810.5,218.0 L810.5,221.5 L812.3,221.5" fill="none" stroke="#555" stroke-width="1" />
<path d="M803,183.0 Q806,184.0 806.5,187.0 L806.5,190.0" fill="none" stroke="#444" stroke-width="1.4" />
<path d="M811,249.0 L826.5,245.6 Q829,247.5 827.8,250.2 L811,255.0 Z" fill="#fff" stroke="#888" stroke-width="1" />
<path d="M769.3,241.2 L773.9,237.9 L787.4,231.3 L803.6,234.3 L804.9,237.3 L808.9,237.9 Q812,239.5 812.9,243.0 L812.9,274.5 L812.3,278.0 L801.5,280.4 L769.3,276.1 Z" fill="#fff" stroke="#555" stroke-width="1.1" />
<path d="M773.9,237.9 L777.2,237.6 L795,239.0 L803.6,234.3 M777.2,237.6 L777.2,240.2 L795,241.5 L795,239.0 M795,241.5 L798,241.9 L804.9,237.3" fill="none" stroke="#555" stroke-width="1" />
<path d="M787.4,231.3 L777.2,235.5 L777.2,237.6 M779,234.6 L800,236.8" fill="none" stroke="#888" stroke-width="0.8" />
<path d="M774.9,241.5 L796.4,242.9 L796.4,249.5 L774.9,247.8 Z" fill="#fff" stroke="#444" stroke-width="1.1" />
<path d="M775.5,244.5 L795.8,245.9" fill="none" stroke="#bbb" stroke-width="0.8" />
<circle cx="785.8" cy="239.9" r="1.5" fill="none" stroke="#555" stroke-width="1" />
<path d="M773.6,241.5 L773.6,273.5 M798,241.9 L798,280.0 M801.5,241.9 L801.5,280.2 M804.9,239.0 L804.9,258.5 M808.3,238.5 L808.3,279.0 " fill="none" stroke="#777" stroke-width="0.9" />
<path d="M797,250.0 L797,278.0 M775.5,250.5 L775.5,265.0" fill="none" stroke="#999" stroke-width="0.8" />
<path d="M769.3,256.0 L772,258.0 L772,263.0 L769.3,265.0 M812.9,257.0 L811,259.0 L811,263.0 L812.9,265.0" fill="none" stroke="#666" stroke-width="0.9" />
<path d="M769.3,250.0 L777.5,250.0 M769.3,253.3 L776.5,253.3 M795,250.0 L801.5,250.0 M795.5,253.3 L801.5,253.3" fill="none" stroke="#666" stroke-width="0.9" />
<ellipse cx="786.7" cy="259.8" rx="9.5" ry="10.8" fill="#fff" stroke="#333" stroke-width="1.2"/>
<ellipse cx="786.7" cy="259.8" rx="7.2" ry="8.4" fill="none" stroke="#aaa" stroke-width="0.8"/>
<path d="M779,255.5 L786,250.5 M780.5,257.5 L784,255.0 M785.5,254.0 L789,252.0 M784,268.5 L792.5,264.0 M786,270.0 L793,266.5" fill="none" stroke="#444" stroke-width="1.0" />
<path d="M772.3,265.5 L772.3,273.5 M777,265.5 L777,276.5 M785.8,270.5 L785.8,278.0 M795,268.0 L795,278.5 M769.3,276.1 L801.5,280.4" fill="none" stroke="#666" stroke-width="0.9" />
<path d="M770.7,273.8 L774.5,274.0 M775.2,276.4 L778.6,276.6 M784.4,277.8 L787.3,278.0 M793.2,278.7 L797,279.0" fill="none" stroke="#333" stroke-width="1.8" />
<path d="M760.1,265.0 L790.9,255.7 L795.5,260.7 L761.6,270.7 Q758.4,270.2 758.4,267.8 Q758.6,265.3 760.1,265.0 Z" fill="#fff" stroke="#555" stroke-width="1" />
<path d="M760.1,265.0 Q763.2,267.8 761.6,270.7" fill="none" stroke="#aaa" stroke-width="0.8" />
<circle cx="803.2" cy="266.6" r="1.0" fill="none" stroke="#333" stroke-width="1.0" />
<circle cx="803.2" cy="268.9" r="1.0" fill="none" stroke="#333" stroke-width="1.0" />
<circle cx="803.2" cy="271.2" r="1.0" fill="none" stroke="#333" stroke-width="1.0" />
<circle cx="799.7" cy="275.1" r="1.6" fill="none" stroke="#555" stroke-width="0.9" />
<path d="M810.5,274.0 L810.5,277.5 L812.3,277.5" fill="none" stroke="#555" stroke-width="1" />
<path d="M803,239.0 Q806,240.0 806.5,243.0 L806.5,246.0" fill="none" stroke="#444" stroke-width="1.4" />
<path d="M811,305.5 L826.5,302.1 Q829,304.0 827.8,306.7 L811,311.5 Z" fill="#fff" stroke="#888" stroke-width="1" />
<path d="M769.3,297.7 L773.9,294.4 L787.4,287.8 L803.6,290.8 L804.9,293.8 L808.9,294.4 Q812,296.0 812.9,299.5 L812.9,331.0 L812.3,334.5 L801.5,336.9 L769.3,332.6 Z" fill="#fff" stroke="#555" stroke-width="1.1" />
<path d="M773.9,294.4 L777.2,294.1 L795,295.5 L803.6,290.8 M777.2,294.1 L777.2,296.7 L795,298.0 L795,295.5 M795,298.0 L798,298.4 L804.9,293.8" fill="none" stroke="#555" stroke-width="1" />
<path d="M787.4,287.8 L777.2,292.0 L777.2,294.1 M779,291.1 L800,293.3" fill="none" stroke="#888" stroke-width="0.8" />
<path d="M774.9,298.0 L796.4,299.4 L796.4,306.0 L774.9,304.3 Z" fill="#fff" stroke="#444" stroke-width="1.1" />
<path d="M775.5,301.0 L795.8,302.4" fill="none" stroke="#bbb" stroke-width="0.8" />
<circle cx="785.8" cy="296.4" r="1.5" fill="none" stroke="#555" stroke-width="1" />
<path d="M773.6,298.0 L773.6,330.0 M798,298.4 L798,336.5 M801.5,298.4 L801.5,336.7 M804.9,295.5 L804.9,315.0 M808.3,295.0 L808.3,335.5 " fill="none" stroke="#777" stroke-width="0.9" />
<path d="M797,306.5 L797,334.5 M775.5,307.0 L775.5,321.5" fill="none" stroke="#999" stroke-width="0.8" />
<path d="M769.3,312.5 L772,314.5 L772,319.5 L769.3,321.5 M812.9,313.5 L811,315.5 L811,319.5 L812.9,321.5" fill="none" stroke="#666" stroke-width="0.9" />
<path d="M769.3,306.5 L777.5,306.5 M769.3,309.8 L776.5,309.8 M795,306.5 L801.5,306.5 M795.5,309.8 L801.5,309.8" fill="none" stroke="#666" stroke-width="0.9" />
<ellipse cx="786.7" cy="316.3" rx="9.5" ry="10.8" fill="#fff" stroke="#333" stroke-width="1.2"/>
<ellipse cx="786.7" cy="316.3" rx="7.2" ry="8.4" fill="none" stroke="#aaa" stroke-width="0.8"/>
<path d="M779,312.0 L786,307.0 M780.5,314.0 L784,311.5 M785.5,310.5 L789,308.5 M784,325.0 L792.5,320.5 M786,326.5 L793,323.0" fill="none" stroke="#444" stroke-width="1.0" />
<path d="M772.3,322.0 L772.3,330.0 M777,322.0 L777,333.0 M785.8,327.0 L785.8,334.5 M795,324.5 L795,335.0 M769.3,332.6 L801.5,336.9" fill="none" stroke="#666" stroke-width="0.9" />
<path d="M770.7,330.3 L774.5,330.5 M775.2,332.9 L778.6,333.1 M784.4,334.3 L787.3,334.5 M793.2,335.2 L797,335.5" fill="none" stroke="#333" stroke-width="1.8" />
<path d="M760.1,321.5 L790.9,312.2 L795.5,317.2 L761.6,327.2 Q758.4,326.7 758.4,324.3 Q758.6,321.8 760.1,321.5 Z" fill="#fff" stroke="#555" stroke-width="1" />
<path d="M760.1,321.5 Q763.2,324.3 761.6,327.2" fill="none" stroke="#aaa" stroke-width="0.8" />
<circle cx="803.2" cy="323.1" r="1.0" fill="none" stroke="#333" stroke-width="1.0" />
<circle cx="803.2" cy="325.4" r="1.0" fill="none" stroke="#333" stroke-width="1.0" />
<circle cx="803.2" cy="327.7" r="1.0" fill="none" stroke="#333" stroke-width="1.0" />
<circle cx="799.7" cy="331.6" r="1.6" fill="none" stroke="#555" stroke-width="0.9" />
<path d="M810.5,330.5 L810.5,334.0 L812.3,334.0" fill="none" stroke="#555" stroke-width="1" />
<path d="M803,295.5 Q806,296.5 806.5,299.5 L806.5,302.5" fill="none" stroke="#444" stroke-width="1.4" />
<text x="688.05" y="175.39" font-size="12.60" font-family='"Liberation Sans", sans-serif' fill="#222" stroke="#222" stroke-width="0.3" textLength="72.35" lengthAdjust="spacing">被检测线缆</text>
<path d="M689.3,183.5 L753.8,183.5 L762.6,207.7" fill="none" stroke="#111" stroke-width="1.3" stroke-dasharray="1.5 1.5"/>
<path d="M735.2,206.8 C733.9,205.8 732.6,205.5 731.1,205.5 C727.6,205.5 725.6,208.6 725.6,212.6 C725.6,216.7 727.6,219.5 731.1,219.5 C732.6,219.5 734,219.2 735.3,218.2" fill="none" stroke="#111" stroke-width="1.5" />
<path d="M726.6,257.9 L726.6,270.2 L730.6,270.2 C733,270.2 734.2,268.6 734.2,266.6 C734.2,264.6 732.8,263.4 730.5,263.4 L726.6,263.4 M726.6,257.9 L730.1,257.9 C732.2,257.9 733.3,259.2 733.3,260.7 C733.3,262.2 732.2,263.4 730.3,263.4" fill="none" stroke="#111" stroke-width="1.5" />
<path d="M725,331.4 L730.3,318.8 L735.6,331.4 M727,326.9 L733.6,326.9" fill="none" stroke="#111" stroke-width="1.5" />
<text x="714.66" y="368.76" font-size="13.00" font-family='"Liberation Sans", sans-serif' fill="#222" stroke="#222" stroke-width="0.3" textLength="71.85" lengthAdjust="spacing">电流互感器</text>
<path d="M711,374.5 L789.8,374.5 L801.7,337.7" fill="none" stroke="#111" stroke-width="1.3" stroke-dasharray="1.5 1.5"/>
<rect x="882.6" y="186.5" width="153.9" height="156.7" rx="4" fill="none" stroke="#777" stroke-width="1" />
<rect x="907.3" y="203.5" width="103.0" height="18.9" rx="0" fill="none" stroke="#777" stroke-width="1" />
<line x1="951.4" y1="203.5" x2="951.4" y2="222.4" stroke="#888" stroke-width="1" />
<line x1="980.3" y1="203.5" x2="980.3" y2="222.4" stroke="#888" stroke-width="1" />
<circle cx="916.7" cy="213.4" r="4.3" fill="url(#gl)" stroke="#999" stroke-width="1" />
<line x1="913.2" y1="213.4" x2="920.2" y2="213.4" stroke="#aaa" stroke-width="0.7" />
<circle cx="929.0" cy="213.4" r="4.3" fill="url(#gl)" stroke="#555" stroke-width="1" />
<line x1="925.5" y1="213.4" x2="932.5" y2="213.4" stroke="#aaa" stroke-width="0.7" />
<circle cx="941.6" cy="213.4" r="4.3" fill="url(#gl)" stroke="#999" stroke-width="1" />
<line x1="938.1" y1="213.4" x2="945.1" y2="213.4" stroke="#aaa" stroke-width="0.7" />
<circle cx="959.9" cy="213.4" r="4.3" fill="url(#gl)" stroke="#999" stroke-width="1" />
<line x1="956.4" y1="213.4" x2="963.4" y2="213.4" stroke="#aaa" stroke-width="0.7" />
<circle cx="972.2" cy="213.4" r="4.3" fill="url(#gl)" stroke="#555" stroke-width="1" />
<line x1="968.7" y1="213.4" x2="975.7" y2="213.4" stroke="#aaa" stroke-width="0.7" />
<circle cx="989.6" cy="213.4" r="4.3" fill="url(#gl)" stroke="#999" stroke-width="1" />
<line x1="986.1" y1="213.4" x2="993.1" y2="213.4" stroke="#aaa" stroke-width="0.7" />
<circle cx="1001.7" cy="213.4" r="4.3" fill="url(#gl)" stroke="#555" stroke-width="1" />
<line x1="998.2" y1="213.4" x2="1005.2" y2="213.4" stroke="#aaa" stroke-width="0.7" />
<path d="M917.4,225 L917.4,229 L942.7,229 L942.7,225" fill="none" stroke="#555" stroke-width="1" />
<path d="M959.9,225 L959.9,229 L974,229 L974,225" fill="none" stroke="#555" stroke-width="1" />
<path d="M988.5,225 L988.5,229 L1002.2,229 L1002.2,225" fill="none" stroke="#555" stroke-width="1" />
<text x="916.3" y="238.0" font-size="7" fill="#222" text-anchor="middle" font-family='"Liberation Sans", sans-serif' font-weight="normal" stroke="#222" stroke-width="0.15">IA</text>
<text x="929.5" y="238.0" font-size="7" fill="#222" text-anchor="middle" font-family='"Liberation Sans", sans-serif' font-weight="normal" stroke="#222" stroke-width="0.15">IB</text>
<text x="942.7" y="238.0" font-size="7" fill="#222" text-anchor="middle" font-family='"Liberation Sans", sans-serif' font-weight="normal" stroke="#222" stroke-width="0.15">IC</text>
<text x="961.0" y="238.0" font-size="7" fill="#222" text-anchor="middle" font-family='"Liberation Sans", sans-serif' font-weight="normal" stroke="#222" stroke-width="0.15">IN</text>
<text x="972.4" y="238.0" font-size="7" fill="#222" text-anchor="middle" font-family='"Liberation Sans", sans-serif' font-weight="normal" stroke="#222" stroke-width="0.15">IN</text>
<text x="990.0" y="238.0" font-size="7" fill="#222" text-anchor="middle" font-family='"Liberation Sans", sans-serif' font-weight="normal" stroke="#222" stroke-width="0.15">S1</text>
<text x="1002.6" y="238.0" font-size="7" fill="#222" text-anchor="middle" font-family='"Liberation Sans", sans-serif' font-weight="normal" stroke="#222" stroke-width="0.15">S2</text>
<rect x="920.2" y="255.9" width="6.8" height="10.5" rx="0" fill="none" stroke="#aaa" stroke-width="1" />
<rect x="937.5" y="255.9" width="6.3" height="10.5" rx="0" fill="none" stroke="#aaa" stroke-width="1" />
<rect x="951.8" y="255.9" width="5.9" height="10.5" rx="0" fill="none" stroke="#aaa" stroke-width="1" />
<rect x="980.1" y="255.9" width="6.6" height="10.5" rx="0" fill="none" stroke="#aaa" stroke-width="1" />
<rect x="998.0" y="255.9" width="6.3" height="10.5" rx="0" fill="none" stroke="#aaa" stroke-width="1" />
<rect x="1012.8" y="255.9" width="6.4" height="10.5" rx="0" fill="none" stroke="#aaa" stroke-width="1" />
<text x="908.52" y="284.32" font-size="9.40" font-family='"Liberation Sans", sans-serif' fill="#222" stroke="#222" stroke-width="0.12" textLength="41.30" lengthAdjust="spacing">主电进线</text>
<text x="970.27" y="284.28" font-size="9.40" font-family='"Liberation Sans", sans-serif' fill="#222" stroke="#222" stroke-width="0.12" textLength="41.10" lengthAdjust="spacing">备电进线</text>
<path d="M905.8,290.6 L905.8,287.2 L952.8,287.2 L952.8,290.6" fill="none" stroke="#444" stroke-width="1" />
<path d="M966.2,290.6 L966.2,287.2 L1013.2,287.2 L1013.2,290.6" fill="none" stroke="#444" stroke-width="1" />
<text x="908.2" y="299.2" font-size="7.2" fill="#222" text-anchor="middle" font-family='"Liberation Sans", sans-serif' font-weight="normal" stroke="#222" stroke-width="0.2">N1</text>
<text x="921.2" y="299.2" font-size="7.2" fill="#222" text-anchor="middle" font-family='"Liberation Sans", sans-serif' font-weight="normal" stroke="#222" stroke-width="0.2">C1</text>
<text x="938.5" y="299.2" font-size="7.2" fill="#222" text-anchor="middle" font-family='"Liberation Sans", sans-serif' font-weight="normal" stroke="#222" stroke-width="0.2">B1</text>
<text x="952.4" y="299.2" font-size="7.2" fill="#222" text-anchor="middle" font-family='"Liberation Sans", sans-serif' font-weight="normal" stroke="#222" stroke-width="0.2">A1</text>
<text x="968.2" y="299.2" font-size="7.2" fill="#222" text-anchor="middle" font-family='"Liberation Sans", sans-serif' font-weight="normal" stroke="#222" stroke-width="0.2">N2</text>
<text x="981.5" y="299.2" font-size="7.2" fill="#222" text-anchor="middle" font-family='"Liberation Sans", sans-serif' font-weight="normal" stroke="#222" stroke-width="0.2">C2</text>
<text x="999.0" y="299.2" font-size="7.2" fill="#222" text-anchor="middle" font-family='"Liberation Sans", sans-serif' font-weight="normal" stroke="#222" stroke-width="0.2">B2</text>
<text x="1013.4" y="299.2" font-size="7.2" fill="#222" text-anchor="middle" font-family='"Liberation Sans", sans-serif' font-weight="normal" stroke="#222" stroke-width="0.2">A2</text>
<rect x="899.2" y="301.5" width="122.2" height="22.8" rx="0" fill="none" stroke="#aaa" stroke-width="1" />
<line x1="929.6" y1="301.5" x2="929.6" y2="324.3" stroke="#888" stroke-width="1" />
<line x1="959.7" y1="301.5" x2="959.7" y2="324.3" stroke="#888" stroke-width="1" />
<line x1="989.4" y1="301.5" x2="989.4" y2="324.3" stroke="#888" stroke-width="1" />
<circle cx="908.2" cy="313.0" r="4.8" fill="none" stroke="#999" stroke-width="1" />
<line x1="905.0" y1="309.8" x2="911.4" y2="316.2" stroke="#888" stroke-width="0.8" />
<line x1="905.7" y1="308.8" x2="912.1" y2="315.3" stroke="#888" stroke-width="0.8" />
<circle cx="921.2" cy="313.0" r="4.8" fill="none" stroke="#999" stroke-width="1" />
<line x1="918.0" y1="309.8" x2="924.4" y2="316.2" stroke="#888" stroke-width="0.8" />
<line x1="918.7" y1="308.8" x2="925.1" y2="315.3" stroke="#888" stroke-width="0.8" />
<circle cx="938.5" cy="313.0" r="4.8" fill="none" stroke="#999" stroke-width="1" />
<line x1="935.3" y1="309.8" x2="941.7" y2="316.2" stroke="#888" stroke-width="0.8" />
<line x1="936.0" y1="308.8" x2="942.4" y2="315.3" stroke="#888" stroke-width="0.8" />
<circle cx="952.4" cy="313.0" r="4.8" fill="none" stroke="#999" stroke-width="1" />
<line x1="949.2" y1="309.8" x2="955.6" y2="316.2" stroke="#888" stroke-width="0.8" />
<line x1="949.9" y1="308.8" x2="956.3" y2="315.3" stroke="#888" stroke-width="0.8" />
<circle cx="968.2" cy="313.0" r="4.8" fill="none" stroke="#999" stroke-width="1" />
<line x1="965.0" y1="309.8" x2="971.4" y2="316.2" stroke="#888" stroke-width="0.8" />
<line x1="965.7" y1="308.8" x2="972.1" y2="315.3" stroke="#888" stroke-width="0.8" />
<circle cx="981.5" cy="313.0" r="4.8" fill="none" stroke="#999" stroke-width="1" />
<line x1="978.3" y1="309.8" x2="984.7" y2="316.2" stroke="#888" stroke-width="0.8" />
<line x1="979.0" y1="308.8" x2="985.4" y2="315.3" stroke="#888" stroke-width="0.8" />
<circle cx="999.0" cy="313.0" r="4.8" fill="none" stroke="#999" stroke-width="1" />
<line x1="995.8" y1="309.8" x2="1002.2" y2="316.2" stroke="#888" stroke-width="0.8" />
<line x1="996.5" y1="308.8" x2="1002.9" y2="315.3" stroke="#888" stroke-width="0.8" />
<circle cx="1013.4" cy="313.0" r="4.8" fill="none" stroke="#999" stroke-width="1" />
<line x1="1010.2" y1="309.8" x2="1016.6" y2="316.2" stroke="#888" stroke-width="0.8" />
<line x1="1010.9" y1="308.8" x2="1017.3" y2="315.3" stroke="#888" stroke-width="0.8" />
<line x1="908.2" y1="317.8" x2="908.2" y2="411.0" stroke="#8a8a8a" stroke-width="1" />
<circle cx="908.2" cy="411.0" r="1.2" fill="#222"/>
<line x1="921.2" y1="317.8" x2="921.2" y2="404.5" stroke="#8a8a8a" stroke-width="1" />
<circle cx="921.2" cy="404.5" r="1.2" fill="#222"/>
<line x1="938.5" y1="317.8" x2="938.5" y2="398.0" stroke="#8a8a8a" stroke-width="1" />
<circle cx="938.5" cy="398.0" r="1.2" fill="#222"/>
<line x1="952.4" y1="317.8" x2="952.4" y2="391.5" stroke="#8a8a8a" stroke-width="1" />
<circle cx="952.4" cy="391.5" r="1.2" fill="#222"/>
<line x1="968.2" y1="317.8" x2="968.2" y2="411.0" stroke="#8a8a8a" stroke-width="1" />
<circle cx="968.2" cy="411.0" r="1.2" fill="#222"/>
<line x1="981.5" y1="317.8" x2="981.5" y2="404.5" stroke="#8a8a8a" stroke-width="1" />
<circle cx="981.5" cy="404.5" r="1.2" fill="#222"/>
<line x1="999.0" y1="317.8" x2="999.0" y2="398.0" stroke="#8a8a8a" stroke-width="1" />
<circle cx="999.0" cy="398.0" r="1.2" fill="#222"/>
<line x1="1013.4" y1="317.8" x2="1013.4" y2="391.5" stroke="#8a8a8a" stroke-width="1" />
<circle cx="1013.4" cy="391.5" r="1.2" fill="#222"/>
<rect x="918.2" y="359.1" width="6.0" height="10.3" rx="0" fill="#fff" stroke="#999" stroke-width="1" />
<line x1="921.2" y1="359.1" x2="921.2" y2="369.4" stroke="#888" stroke-width="1" />
<rect x="935.5" y="359.1" width="6.0" height="10.3" rx="0" fill="#fff" stroke="#999" stroke-width="1" />
<line x1="938.5" y1="359.1" x2="938.5" y2="369.4" stroke="#888" stroke-width="1" />
<rect x="949.4" y="359.1" width="6.0" height="10.3" rx="0" fill="#fff" stroke="#999" stroke-width="1" />
<line x1="952.4" y1="359.1" x2="952.4" y2="369.4" stroke="#888" stroke-width="1" />
<rect x="978.5" y="359.1" width="6.0" height="10.3" rx="0" fill="#fff" stroke="#999" stroke-width="1" />
<line x1="981.5" y1="359.1" x2="981.5" y2="369.4" stroke="#888" stroke-width="1" />
<rect x="996.0" y="359.1" width="6.0" height="10.3" rx="0" fill="#fff" stroke="#999" stroke-width="1" />
<line x1="999.0" y1="359.1" x2="999.0" y2="369.4" stroke="#888" stroke-width="1" />
<rect x="1010.4" y="359.1" width="6.0" height="10.3" rx="0" fill="#fff" stroke="#999" stroke-width="1" />
<line x1="1013.4" y1="359.1" x2="1013.4" y2="369.4" stroke="#888" stroke-width="1" />
<line x1="903.6" y1="391.5" x2="956.4" y2="391.5" stroke="#555" stroke-width="1" />
<line x1="963.6" y1="391.5" x2="1019.8" y2="391.5" stroke="#555" stroke-width="1" />
<text x="901.0" y="393.3" font-size="4.8" fill="#222" text-anchor="middle" font-family='"Liberation Sans", sans-serif' font-weight="normal" >A</text>
<text x="961.2" y="393.3" font-size="4.8" fill="#222" text-anchor="middle" font-family='"Liberation Sans", sans-serif' font-weight="normal" >A</text>
<line x1="903.6" y1="398.0" x2="956.4" y2="398.0" stroke="#555" stroke-width="1" />
<line x1="963.6" y1="398.0" x2="1019.8" y2="398.0" stroke="#555" stroke-width="1" />
<text x="901.0" y="399.8" font-size="4.8" fill="#222" text-anchor="middle" font-family='"Liberation Sans", sans-serif' font-weight="normal" >B</text>
<text x="961.2" y="399.8" font-size="4.8" fill="#222" text-anchor="middle" font-family='"Liberation Sans", sans-serif' font-weight="normal" >B</text>
<line x1="903.6" y1="404.5" x2="956.4" y2="404.5" stroke="#555" stroke-width="1" />
<line x1="963.6" y1="404.5" x2="1019.8" y2="404.5" stroke="#555" stroke-width="1" />
<text x="901.0" y="406.3" font-size="4.8" fill="#222" text-anchor="middle" font-family='"Liberation Sans", sans-serif' font-weight="normal" >C</text>
<text x="961.2" y="406.3" font-size="4.8" fill="#222" text-anchor="middle" font-family='"Liberation Sans", sans-serif' font-weight="normal" >C</text>
<line x1="903.6" y1="411.0" x2="956.4" y2="411.0" stroke="#555" stroke-width="1" />
<line x1="963.6" y1="411.0" x2="1019.8" y2="411.0" stroke="#555" stroke-width="1" />
<text x="901.0" y="412.8" font-size="4.8" fill="#222" text-anchor="middle" font-family='"Liberation Sans", sans-serif' font-weight="normal" >N</text>
<text x="961.2" y="412.8" font-size="4.8" fill="#222" text-anchor="middle" font-family='"Liberation Sans", sans-serif' font-weight="normal" >N</text>
<path d="M918.6,361.9 L908.2,376.4 L870.7,376.4" fill="none" stroke="#999" stroke-width="0.8" />
<text x="872.31" y="373.66" font-size="7.60" font-family='"Liberation Sans", sans-serif' fill="#222" stroke="#222" stroke-width="0.1" textLength="34.04" lengthAdjust="spacing">1A保险管</text>
<rect x="885.9" y="415.6" width="69.7" height="18.5" rx="4" fill="none" stroke="#666" stroke-width="1" />
<rect x="961.2" y="415.6" width="69.2" height="18.5" rx="4" fill="none" stroke="#666" stroke-width="1" />
<text x="892.70" y="427.70" font-size="8.20" font-family='"Liberation Sans", sans-serif' fill="#222" stroke="#222" stroke-width="0.12" textLength="57.75" lengthAdjust="spacing">三相四线电压1</text>
<text x="967.52" y="427.70" font-size="8.20" font-family='"Liberation Sans", sans-serif' fill="#222" stroke="#222" stroke-width="0.12" textLength="57.84" lengthAdjust="spacing">三相四线电压2</text>
<text x="1053.32" y="368.48" font-size="12.60" font-family='"Liberation Sans", sans-serif' fill="#222" stroke="#222" stroke-width="0.3" textLength="136.43" lengthAdjust="spacing">电压/电流信号传感器</text>
<path d="M1024.6,326.9 L1051.6,375.5 L1194.3,375.5" fill="none" stroke="#111" stroke-width="1.3" stroke-dasharray="1.5 1.5"/>
<path d="M806.2,187.5 C825,191 845,190 870,178 C895,166 930,160 943.7,188.6" fill="none" stroke="#111" stroke-width="1.8" />
<path d="M943.7,188.6 C950,192 966,189 970,198 L972.2,213.4" fill="none" stroke="#333" stroke-width="0.9" />
<path d="M943.7,188.6 C949,197 947,206 941.6,213.4" fill="none" stroke="#e03030" stroke-width="1" />
<path d="M806.6,242.9 C822,240 835,233 847,222 C860,208 880,193 899,193.5 C906,193.7 910,195.5 913.4,197.5" fill="none" stroke="#111" stroke-width="1.8" />
<path d="M913.4,197.5 C925,201 935,195 945,198 C955,202 958,208 959.9,213.4" fill="none" stroke="#333" stroke-width="0.9" />
<path d="M913.4,197.5 C920,200 927,206 929,213.4" fill="none" stroke="#e03030" stroke-width="1" />
<path d="M804.4,296.9 C815,283 835,267 860,268 C880,270 893,262 901.3,244 C906,235 910,229 916.7,227.5" fill="none" stroke="#111" stroke-width="1.8" />
<path d="M916.7,227.5 C935,227 950,222 959.9,213.4" fill="none" stroke="#333" stroke-width="0.9" />
<path d="M916.7,227.5 C919,222 919,217 916.7,213.4" fill="none" stroke="#e03030" stroke-width="1" />
<line x1="618.9" y1="187.0" x2="618.9" y2="213.8" stroke="#808080" stroke-width="1.2" />
<line x1="631.2" y1="187.0" x2="631.2" y2="213.8" stroke="#ee9a6c" stroke-width="1" />
<line x1="989.6" y1="186.5" x2="989.6" y2="213.4" stroke="#333" stroke-width="1" />
<line x1="1001.9" y1="186.5" x2="1001.9" y2="213.4" stroke="#f2b48e" stroke-width="1.2" />
</svg></body></html>
